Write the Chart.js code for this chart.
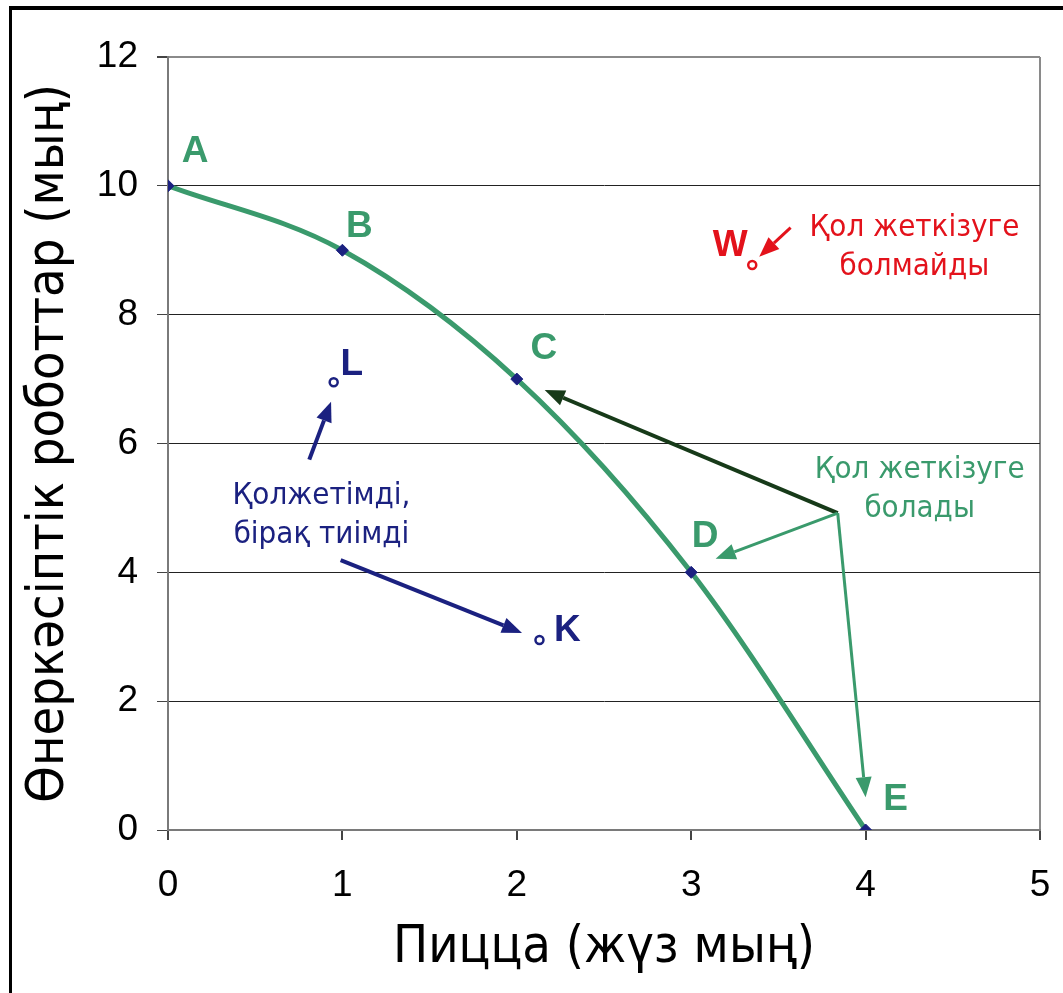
<!DOCTYPE html>
<html>
<head>
<meta charset="utf-8">
<title>Пицца мен роботтар</title>
<script src="https://cdn.jsdelivr.net/npm/chart.js@4.4.0/dist/chart.umd.min.js"></script>
<style>
  html, body { margin: 0; padding: 0; background: #fff; overflow: hidden; }
  #wrap { position: relative; width: 1063px; height: 993px; }
  #frame { position: absolute; left: 9px; top: 6px; width: 1200px; height: 1200px;
           border-top: 4px solid #000; border-left: 3px solid #000; pointer-events: none; }
</style>
</head>
<body>
<div id="wrap">
  <canvas id="chart" width="1063" height="993"></canvas>
  <div id="frame"></div>
</div>
<script>
"use strict";

// frontier A..E
const pointNames = ["A", "B", "C", "D", "E"];
const pizzaValues = [0, 1, 2, 3, 4];
const robotValues = [10, 9, 7, 4, 0];

// single points off the frontier
const otherNames = ["L", "K", "W"];
const otherPizza = [0.95, 2.13, 3.35];
const otherRobots = [6.95, 2.95, 8.77];

const xTicks = [0, 1, 2, 3, 4, 5];
const yTicks = [0, 2, 4, 6, 8, 10, 12];

const xTitle = "Пицца (жүз мың)";
const yTitle = "Өнеркәсіптік роботтар (мың)";

// text notes, anchored in data units
const noteLines = [
  ["Қол жеткізуге", "болмайды"],
  ["Қол жеткізуге", "болады"],
  ["Қолжетімді,", "бірақ тиімді"]
];
const noteX = [4.28, 4.31, 0.88];
const noteY = [9.05, 5.28, 4.89];

// arrows, data units
const arrowStartX = [3.57, 0.81, 0.99, 3.84, 3.84, 3.84];
const arrowStartY = [9.35, 5.75, 4.19, 4.92, 4.92, 4.92];
const arrowEndX = [3.39, 0.935, 2.03, 2.16, 3.14, 4.0];
const arrowEndY = [8.9, 6.65, 3.06, 6.83, 4.21, 0.51];

const green = "#3a9a6c";
const navy = "#1b2180";
const red = "#e3121b";
const darkGreen = "#173a19";

const noteColors = [red, green, navy];
const arrowColors = [red, navy, navy, darkGreen, green, green];
const arrowWidths = [3, 4, 4, 4, 3, 3];
const otherColors = [navy, navy, red];

// label offsets in px from the point
const nameDx = [27, 17, 27, 14, 30];
const nameDy = [-34, -23, -30, -36, -30];
const otherDx = [18, 28, -22];
const otherDy = [-18, -9, -19];

const narrow = "'Liberation Sans Narrow', 'Liberation Sans', Arial, sans-serif";
const condensed = "'DejaVu Sans Condensed', 'DejaVu Sans', sans-serif";

function drawArrow(ctx, x1, y1, x2, y2, color, width) {
  const angle = Math.atan2(y2 - y1, x2 - x1);
  const head = 20;
  const half = 8;
  const bx = x2 - head * Math.cos(angle);
  const by = y2 - head * Math.sin(angle);
  ctx.strokeStyle = color;
  ctx.fillStyle = color;
  ctx.lineWidth = width;
  ctx.beginPath();
  ctx.moveTo(x1, y1);
  ctx.lineTo(bx, by);
  ctx.stroke();
  ctx.beginPath();
  ctx.moveTo(x2, y2);
  ctx.lineTo(bx + half * Math.sin(angle), by - half * Math.cos(angle));
  ctx.lineTo(bx - half * Math.sin(angle), by + half * Math.cos(angle));
  ctx.closePath();
  ctx.fill();
}

const annotations = {
  id: "annotations",
  afterDatasetsDraw(chart) {
    const ctx = chart.ctx;
    const xs = chart.scales.x;
    const ys = chart.scales.y;
    ctx.save();

    for (let i = 0; i < arrowStartX.length; i++) {
      drawArrow(ctx,
        xs.getPixelForValue(arrowStartX[i]), ys.getPixelForValue(arrowStartY[i]),
        xs.getPixelForValue(arrowEndX[i]), ys.getPixelForValue(arrowEndY[i]),
        arrowColors[i], arrowWidths[i]);
    }

    ctx.textAlign = "center";
    ctx.textBaseline = "middle";
    ctx.font = "31px " + condensed;
    for (let i = 0; i < noteLines.length; i++) {
      const cx = xs.getPixelForValue(noteX[i]);
      const cy = ys.getPixelForValue(noteY[i]);
      const lh = 39;
      ctx.fillStyle = noteColors[i];
      for (let j = 0; j < noteLines[i].length; j++) {
        ctx.fillText(noteLines[i][j], cx, cy + (j - (noteLines[i].length - 1) / 2) * lh);
      }
    }

    ctx.font = "bold 37px 'Liberation Sans', Arial, sans-serif";
    const front = chart.getDatasetMeta(0).data;
    ctx.fillStyle = green;
    for (let i = 0; i < pointNames.length; i++) {
      ctx.fillText(pointNames[i], front[i].x + nameDx[i], front[i].y + nameDy[i]);
    }
    const others = chart.getDatasetMeta(1).data;
    for (let i = 0; i < otherNames.length; i++) {
      ctx.fillStyle = otherColors[i];
      ctx.fillText(otherNames[i], others[i].x + otherDx[i], others[i].y + otherDy[i]);
    }
    ctx.restore();
  }
};

const frontier = [];
for (let i = 0; i < pizzaValues.length; i++) {
  frontier.push({ x: pizzaValues[i], y: robotValues[i] });
}
const singles = [];
for (let i = 0; i < otherPizza.length; i++) {
  singles.push({ x: otherPizza[i], y: otherRobots[i] });
}

const chart = new Chart(document.getElementById("chart"), {
  type: "scatter",
  data: {
    datasets: [
      {
        data: frontier,
        showLine: true,
        borderColor: green,
        borderWidth: 5,
        cubicInterpolationMode: "monotone",
        pointStyle: "rectRot",
        pointRadius: 6,
        pointBackgroundColor: navy,
        pointBorderColor: navy,
        pointBorderWidth: 1
      },
      {
        data: singles,
        showLine: false,
        pointStyle: "circle",
        pointRadius: 4,
        pointBorderWidth: 2.5,
        pointBorderColor: otherColors,
        pointBackgroundColor: "#ffffff"
      }
    ]
  },
  options: {
    responsive: false,
    animation: false,
    layout: { padding: { top: 57, right: 23, left: 0, bottom: 0 } },
    plugins: { legend: { display: false }, tooltip: { enabled: false } },
    scales: {
      x: {
        type: "linear",
        min: 0,
        max: 5,
        afterBuildTicks: (s) => { s.ticks = xTicks.map((v) => ({ value: v })); },
        afterFit: (s) => {
          s.height = 163;
          // don't let the tick padding push the plot edge in
          s.paddingLeft = 0;
          s.paddingRight = 0;
        },
        border: { color: "#7a7a7a", width: 2 },
        grid: {
          drawOnChartArea: true,
          tickLength: 10,
          color: (c) => (c.tick && c.tick.value === 5 ? "#8a8a8a" : "rgba(0,0,0,0)"),
          lineWidth: 2,
          tickColor: "#444"
        },
        ticks: { color: "#000", padding: 24, font: { family: narrow, size: 37 } },
        title: {
          display: true,
          text: xTitle,
          color: "#000",
          padding: { top: 0, bottom: 13 },
          font: { family: condensed, size: 52 }
        }
      },
      y: {
        type: "linear",
        min: 0,
        max: 12,
        afterBuildTicks: (s) => { s.ticks = yTicks.map((v) => ({ value: v })); },
        afterFit: (s) => { s.width = 168; },
        border: { color: "#7a7a7a", width: 2 },
        grid: {
          tickLength: 11,
          color: (c) => (c.tick && c.tick.value === 12 ? "#8a8a8a" : "#222"),
          lineWidth: (c) => (c.tick && c.tick.value === 12 ? 2 : 1),
          tickColor: "#444"
        },
        ticks: { color: "#000", padding: 19, font: { family: narrow, size: 37 } },
        title: {
          display: true,
          text: yTitle,
          color: "#000",
          padding: { top: 18, bottom: 0 },
          font: { family: condensed, size: 52 }
        }
      }
    }
  },
  plugins: [annotations]
});
console.log(chart.chartArea);
</script>
</body>
</html>
